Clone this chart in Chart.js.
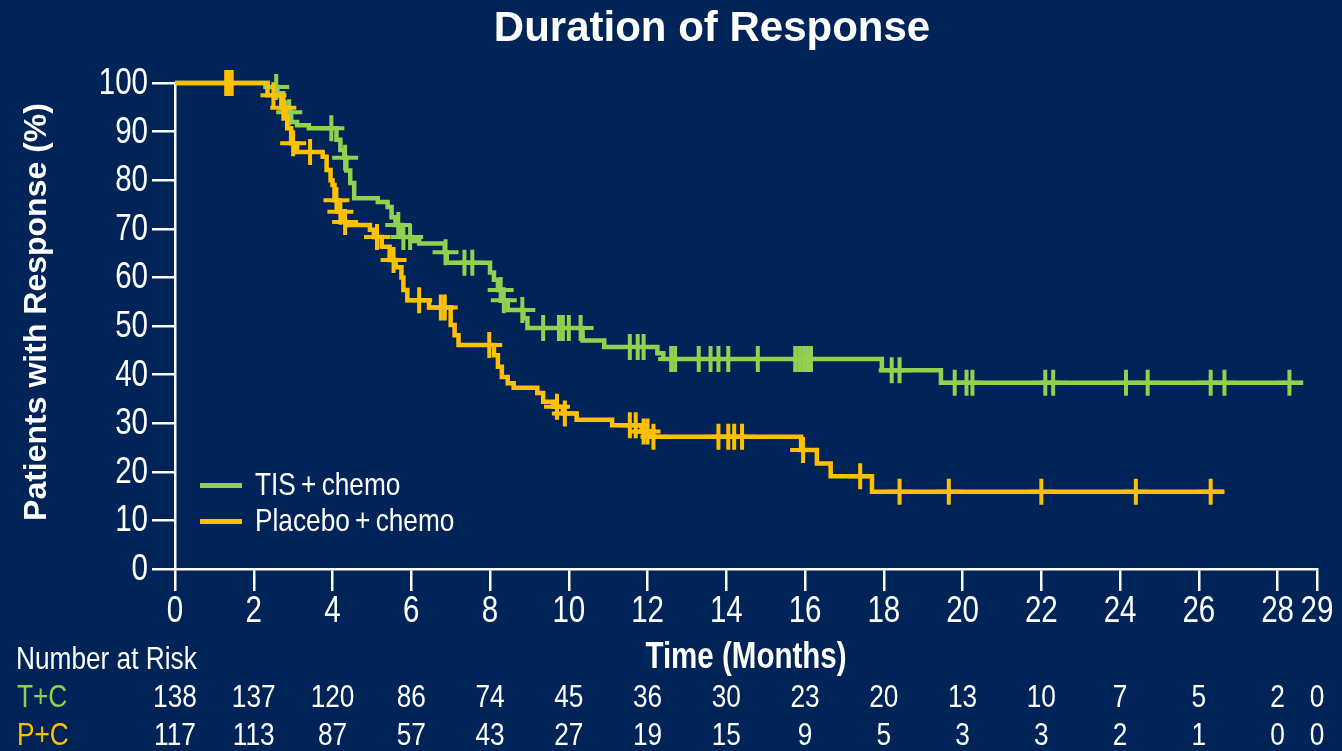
<!DOCTYPE html>
<html>
<head>
<meta charset="utf-8">
<title>Duration of Response</title>
<script src="https://cdn.jsdelivr.net/npm/chart.js@4.4.0/dist/chart.umd.min.js"></script>
<style>
    html, body { margin: 0; padding: 0; background: #002457; }
    #wrap { width: 1342px; height: 751px; position: relative; }
</style>
</head>
<body>
<div id="wrap"><canvas id="km"></canvas></div>
<script>
// ---- data ----
const tisTimes = [0, 2.35, 2.6, 2.75, 2.8, 2.95, 3.1, 3.4, 4.1, 4.2, 4.3, 4.35, 4.45, 4.55, 5.15, 5.4, 5.5, 5.6, 5.75, 6.0, 6.2, 6.85, 6.9, 8.0, 8.1, 8.2, 8.3, 8.45, 8.85, 8.95, 10.35, 10.9, 12.25, 12.4, 17.95, 19.45, 28.65];
const tisSurv  = [100, 99.2, 97.9, 96, 94, 92, 91.3, 90.7, 88.3, 86.2, 84.6, 82, 79.4, 76.3, 75.5, 74.5, 72.4, 70.8, 68.3, 67.5, 67.0, 65.2, 63.0, 61, 59.5, 57.4, 55.3, 53.3, 51.6, 49.6, 47.0, 45.7, 44.4, 43.2, 40.9, 38.3, 38.3];
const tisCensor = [2.57, 2.9, 3.97, 4.32, 5.67, 5.8, 5.97, 6.87, 7.35, 7.55, 8.27, 8.35, 8.82, 9.35, 9.75, 9.85, 10.0, 10.3, 11.55, 11.75, 11.9, 12.6, 12.7, 13.3, 13.6, 13.8, 14.05, 14.8, 15.75, 15.85, 15.95, 16.05, 16.15, 18.2, 18.4, 19.8, 20.1, 20.25, 22.1, 22.3, 24.15, 24.7, 26.3, 26.65, 28.3];

const pboTimes = [0, 2.35, 2.7, 2.8, 2.85, 2.95, 3.1, 3.75, 3.85, 3.95, 4.0, 4.05, 4.15, 4.3, 4.35, 4.95, 5.05, 5.25, 5.45, 5.6, 5.75, 5.8, 5.9, 6.45, 7.0, 7.1, 7.2, 8.1, 8.2, 8.3, 8.45, 8.6, 9.2, 9.35, 9.6, 9.85, 10.2, 11.1, 11.85, 12.1, 15.9, 16.3, 16.65, 17.7, 26.65];
const pboSurv  = [100, 97.5, 94.9, 93, 90.7, 87.6, 85.8, 84.8, 82.1, 80, 79, 75.9, 73.5, 71.4, 70.8, 69.8, 68.3, 66.3, 63.6, 62.1, 60, 57.4, 55.3, 53.8, 50.2, 48.1, 46.1, 44, 41.6, 39.5, 38.2, 37.3, 36.2, 34.4, 33.4, 32, 30.7, 29.6, 28.3, 27.2, 24.5, 21.7, 19.1, 15.9, 15.9];
const pboCensor = [1.3, 1.37, 1.44, 2.5, 2.75, 3.0, 3.43, 4.1, 4.2, 4.32, 5.13, 5.55, 6.2, 6.75, 6.85, 7.98, 9.7, 9.9, 11.55, 11.7, 11.9, 12.0, 12.15, 13.8, 14.05, 14.2, 14.4, 15.95, 17.4, 18.4, 19.65, 22.0, 24.4, 26.3];

const xTicks = [0, 2, 4, 6, 8, 10, 12, 14, 16, 18, 20, 22, 24, 26, 28, 29];
const riskTimes = [0, 2, 4, 6, 8, 10, 12, 14, 16, 18, 20, 22, 24, 26, 28, 29];
const riskTC = [138, 137, 120, 86, 74, 45, 36, 30, 23, 20, 13, 10, 7, 5, 2, 0];
const riskPC = [117, 113, 87, 57, 43, 27, 19, 15, 9, 5, 3, 3, 2, 1, 0, 0];

const GREEN = '#92D050';
const YELLOW = '#FFC000';
const BG = '#002457';
const FONT = '"Liberation Sans", Arial, sans-serif';
const SQUEEZE = 0.82; // Liberation Sans squeezed ~ Arial Narrow

// survival level at time t (step function)
function levelAt(times, surv, t) {
    let v = surv[0];
    for (let i = 0; i < times.length; i++) {
        if (times[i] <= t) v = surv[i];
    }
    return v;
}

const toPts = (times, surv) => times.map((t, i) => ({ x: t, y: surv[i] }));
const censorPts = (cens, times, surv) => cens.map(t => ({ x: t, y: levelAt(times, surv, t) }));

// condensed text helper
function narrow(ctx, text, x, y, align, font, color) {
    ctx.save();
    ctx.font = font;
    ctx.fillStyle = color || '#fff';
    ctx.textAlign = align;
    ctx.textBaseline = 'middle';
    ctx.translate(x, y);
    ctx.scale(SQUEEZE, 1);
    ctx.fillText(text, 0, 0);
    ctx.restore();
}

// background, labels, title, legend, risk table
const decor = {
    id: 'decor',
    beforeDraw(chart) {
        const ctx = chart.ctx;
        ctx.save();
        ctx.fillStyle = BG;
        ctx.fillRect(0, 0, chart.width, chart.height);
        ctx.restore();
    },
    afterDraw(chart) {
        const ctx = chart.ctx;
        const xs = chart.scales.x;
        const ys = chart.scales.y;
        const area = chart.chartArea;

        // tick labels
        ys.ticks.forEach(t => {
            narrow(ctx, String(t.value), 148, ys.getPixelForValue(t.value) + 1, 'right', '36px ' + FONT);
        });
        xTicks.forEach(v => {
            narrow(ctx, String(v), xs.getPixelForValue(v), 612, 'center', '36px ' + FONT);
        });

        // axis titles
        narrow(ctx, 'Time (Months)', (area.left + area.right) / 2, 658, 'center', 'bold 36px ' + FONT);
        ctx.save();
        ctx.translate(37, 312);
        ctx.rotate(-Math.PI / 2);
        ctx.font = 'bold 32px ' + FONT;
        ctx.fillStyle = '#fff';
        ctx.textAlign = 'center';
        ctx.textBaseline = 'middle';
        ctx.fillText('Patients with Response (%)', 0, 0);
        ctx.restore();

        // title
        ctx.save();
        ctx.font = 'bold 42px ' + FONT;
        ctx.fillStyle = '#fff';
        ctx.textAlign = 'center';
        ctx.textBaseline = 'middle';
        ctx.fillText('Duration of Response', 712, 29);
        ctx.restore();

        // legend
        ctx.save();
        ctx.fillStyle = GREEN;
        ctx.fillRect(200, 483, 42, 5);
        ctx.fillStyle = YELLOW;
        ctx.fillRect(200, 519, 42, 5);
        ctx.restore();
        narrow(ctx, 'TIS\u2009+\u2009chemo', 255, 486, 'left', '32px ' + FONT);
        narrow(ctx, 'Placebo\u2009+\u2009chemo', 255, 522, 'left', '32px ' + FONT);

        // number at risk
        narrow(ctx, 'Number at Risk', 16, 660, 'left', '32px ' + FONT);
        narrow(ctx, 'T+C', 17, 698, 'left', '32px ' + FONT, GREEN);
        narrow(ctx, 'P+C', 17, 736, 'left', '32px ' + FONT, YELLOW);
        riskTimes.forEach((t, i) => {
            const px = xs.getPixelForValue(t);
            narrow(ctx, String(riskTC[i]), px, 698, 'center', '32px ' + FONT);
            narrow(ctx, String(riskPC[i]), px, 736, 'center', '32px ' + FONT);
        });
    }
};

const censorStyle = (color) => ({
    showLine: false,
    pointStyle: 'cross',
    pointRadius: 13,
    pointHoverRadius: 13,
    pointBorderWidth: 4,
    pointBorderColor: color,
    pointBackgroundColor: color,
    borderColor: color,
    clip: false
});

new Chart(document.getElementById('km'), {
    type: 'line',
    data: {
        datasets: [
            {
                label: 'Placebo + chemo',
                data: toPts(pboTimes, pboSurv),
                stepped: true,
                borderColor: YELLOW,
                borderWidth: 4.5,
                pointRadius: 0,
                fill: false,
                clip: false
            },
            Object.assign({ label: 'P+C censored', data: censorPts(pboCensor, pboTimes, pboSurv) }, censorStyle(YELLOW)),
            {
                label: 'TIS + chemo',
                data: toPts(tisTimes, tisSurv),
                stepped: true,
                borderColor: GREEN,
                borderWidth: 4.5,
                pointRadius: 0,
                fill: false,
                clip: false
            },
            Object.assign({ label: 'T+C censored', data: censorPts(tisCensor, tisTimes, tisSurv) }, censorStyle(GREEN))
        ]
    },
    options: {
        responsive: true,
        maintainAspectRatio: false,
        devicePixelRatio: 1,
        animation: false,
        layout: { padding: { top: 83, right: 25, bottom: 71, left: 0 } },
        plugins: {
            legend: { display: false },
            tooltip: { enabled: false }
        },
        scales: {
            x: {
                type: 'linear',
                min: 0,
                max: 29,
                afterBuildTicks: s => { s.ticks = xTicks.map(v => ({ value: v })); },
                afterFit: s => { s.height = 111; },
                ticks: { display: false, autoSkip: false, maxRotation: 0 },
                grid: { drawOnChartArea: false, tickLength: 22, color: '#fff', lineWidth: 2.5 },
                border: { color: '#fff', width: 2.5 }
            },
            y: {
                min: 0,
                max: 100,
                afterFit: s => { s.width = 175; },
                ticks: { stepSize: 10, display: false },
                grid: { drawOnChartArea: false, tickLength: 23, color: '#fff', lineWidth: 2.5 },
                border: { color: '#fff', width: 2.5 }
            }
        }
    },
    plugins: [decor]
});
</script>
</body>
</html>
